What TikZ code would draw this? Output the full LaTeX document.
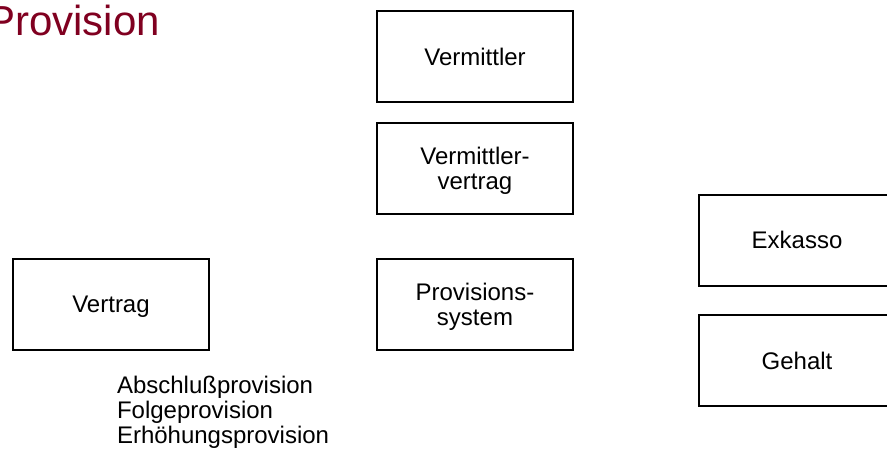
\documentclass[tikz,border=0pt]{standalone}
\usepackage{fontspec}
\setmainfont{Liberation Sans}
\definecolor{titelrot}{RGB}{128,0,32}
\begin{document}
\begin{tikzpicture}[x=1pt,y=-1pt,line width=2pt,node font=\fontsize{24}{25}\selectfont,
    kasten/.style={draw,minimum width=196pt,minimum height=91pt,align=center,inner sep=0pt,
      text depth=0pt}]
    \useasboundingbox (0,0) rectangle (887,458);
    \node [anchor=base east,inner sep=0pt,text=titelrot,font=\fontsize{42}{42}\selectfont] (titel) at (161,35) {Provision};
    % mittlere Spalte
    \node [kasten] (vermittler) at (475,56.5) {Vermittler};
    \node [kasten] (vermittlervertrag) at (475,168.5) {Vermittler-\\vertrag};
    \node [kasten] (provsystem) at (475,304) {Provisions-\\system};
    % links
    \node [kasten] (vertrag) at (111,304) {Vertrag};
    \node [anchor=base west,inner sep=0pt,align=left] (provarten) at (116,443)
        {Abschlußprovision\\Folgeprovision\\Erhöhungsprovision};
    % rechts
    \node [kasten] (exkasso) at (797,240) {Exkasso};
    \node [kasten] (gehalt) at (797,360.5) {Gehalt};
\end{tikzpicture}
\end{document}
